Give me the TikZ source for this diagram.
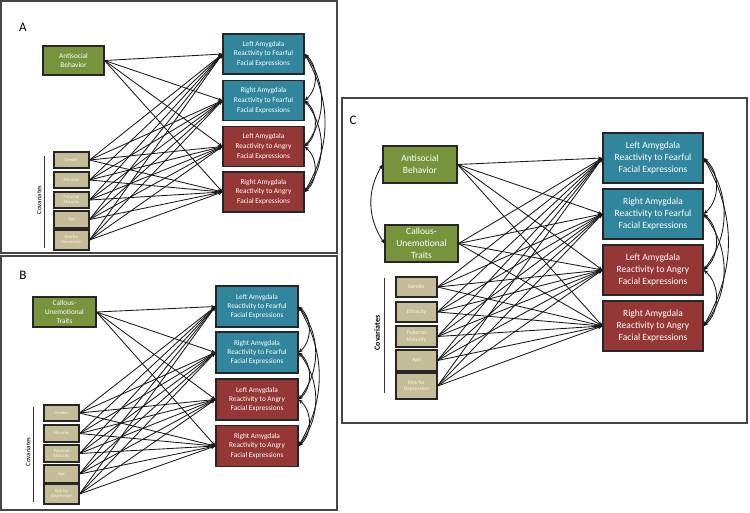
\documentclass[tikz,border=0pt]{standalone}
\usepackage{fontspec}
\setmainfont{Carlito}
\usetikzlibrary{arrows.meta}
\definecolor{grn}{RGB}{119,147,60}
\definecolor{blu}{RGB}{49,133,156}
\definecolor{rd}{RGB}{149,55,53}
\definecolor{covtan}{RGB}{196,189,151}
\definecolor{framegray}{RGB}{70,70,70}
\tikzset{
 box/.style={draw=black!85, line width=1.1pt, text=white, align=center, inner sep=0pt},
 src/.style={box, fill=grn},
 fear/.style={box, fill=blu},
 angr/.style={box, fill=rd},
 cov/.style={box, fill=covtan, text=white!85!covtan},
 arr/.style={-{Stealth[length=4.5pt,width=3.5pt]}, line width=0.85pt, black!90},
 corr/.style={{Stealth[length=4.5pt,width=3.5pt]}-{Stealth[length=4.5pt,width=3.5pt]}, line width=0.85pt, black!90},
 panel/.style={draw=framegray, line width=1.2pt},
 plabel/.style={font=\fontsize{13}{13}\selectfont, text=black},
 covlab/.style={rotate=90, text=black},
 covline/.style={line width=1pt, black!80},
}
\begin{document}
\begin{tikzpicture}[x=1pt,y=-1pt]
\useasboundingbox (0,0) rectangle (750,512);
\fill[white] (0,0) rectangle (750,512);
% ---------------- Panel A ----------------
\draw[panel] (1,1) rectangle (337,253);
\node[plabel] (labA) at (23,27) {A};
\begin{scope}[font=\fontsize{7.3}{9.6}\selectfont]
\node[src, minimum width=61pt, minimum height=29pt] (aS) at (73.5,60.5) {Antisocial\\Behavior};
\node[fear, minimum width=81pt, minimum height=40pt] (aT1) at (263.5,54) {Left Amygdala\\Reactivity to Fearful\\Facial Expressions};
\node[fear, minimum width=81pt, minimum height=40pt] (aT2) at (263.5,100.5) {Right Amygdala\\Reactivity to Fearful\\Facial Expressions};
\node[angr, minimum width=81pt, minimum height=40pt] (aT3) at (263.5,146.5) {Left Amygdala\\Reactivity to Angry\\Facial Expressions};
\node[angr, minimum width=81pt, minimum height=40pt] (aT4) at (263.5,192) {Right Amygdala\\Reactivity to Angry\\Facial Expressions};
\begin{scope}[font=\fontsize{4.5}{5}\selectfont]
\node[cov, minimum width=35pt, minimum height=16pt] (aC1) at (71.5,160) {Gender};
\node[cov, minimum width=35pt, minimum height=16pt] (aC2) at (71.5,180) {Ethnicity};
\node[cov, minimum width=35pt, minimum height=16pt] (aC3) at (71.5,200) {Pubertal\\Maturity};
\node[cov, minimum width=35pt, minimum height=17pt] (aC4) at (71.5,219.5) {Age};
\node[cov, minimum width=35pt, minimum height=20pt] (aC5) at (71.5,240) {Risk for\\Depression};
\end{scope}
\node[covlab, font=\fontsize{6.8}{7}\selectfont] (aCL) at (39,200) {Covariates};
\coordinate (aL1) at (44,156);
\coordinate (aL2) at (44,248);
\draw[covline] (aL1) -- (aL2);
\foreach \s in {aS,aC1,aC2,aC3,aC4,aC5}
  \foreach \t in {aT1,aT2,aT3,aT4}
    \draw[arr] (\s.east) -- (\t.west);
\foreach \i/\j/\b in {1/2/50,2/3/50,3/4/50,1/3/38,2/4/38,1/4/30}
  \draw[corr] (aT\i.east) to[bend left=\b] (aT\j.east);
\end{scope}
% ---------------- Panel B ----------------
\draw[panel] (1,256) rectangle (337,510);
\node[plabel] (labB) at (23,275) {B};
\begin{scope}[font=\fontsize{7.3}{9.4}\selectfont]
\node[src, minimum width=63pt, minimum height=30pt] (bS) at (64.5,312) {Callous-\\Unemotional\\Traits};
\node[fear, minimum width=82pt, minimum height=41pt] (bT1) at (257,306.5) {Left Amygdala\\Reactivity to Fearful\\Facial Expressions};
\node[fear, minimum width=82pt, minimum height=41pt] (bT2) at (257,352.5) {Right Amygdala\\Reactivity to Fearful\\Facial Expressions};
\node[angr, minimum width=82pt, minimum height=41pt] (bT3) at (257,399.5) {Left Amygdala\\Reactivity to Angry\\Facial Expressions};
\node[angr, minimum width=82pt, minimum height=41pt] (bT4) at (257,446) {Right Amygdala\\Reactivity to Angry\\Facial Expressions};
\begin{scope}[font=\fontsize{4.5}{5}\selectfont]
\node[cov, minimum width=35pt, minimum height=16pt] (bC1) at (61.5,413) {Gender};
\node[cov, minimum width=35pt, minimum height=17pt] (bC2) at (61.5,433.5) {Ethnicity};
\node[cov, minimum width=35pt, minimum height=17pt] (bC3) at (61.5,453.5) {Pubertal\\Maturity};
\node[cov, minimum width=35pt, minimum height=18pt] (bC4) at (61.5,474) {Age};
\node[cov, minimum width=35pt, minimum height=20pt] (bC5) at (61.5,494) {Risk for\\Depression};
\end{scope}
\node[covlab, font=\fontsize{6.8}{7}\selectfont] (bCL) at (28,452) {Covariates};
\coordinate (bL1) at (33,407);
\coordinate (bL2) at (33,502);
\draw[covline] (bL1) -- (bL2);
\foreach \s in {bS,bC1,bC2,bC3,bC4,bC5}
  \foreach \t in {bT1,bT2,bT3,bT4}
    \draw[arr] (\s.east) -- (\t.west);
\foreach \i/\j/\b in {1/2/50,2/3/50,3/4/50,1/3/38,2/4/38,1/4/30}
  \draw[corr] (bT\i.east) to[bend left=\b] (bT\j.east);
\end{scope}
% ---------------- Panel C ----------------
\draw[panel] (342,98) rectangle (747,423);
\node[plabel] (labC) at (353,120) {C};
\begin{scope}[font=\fontsize{9.5}{12}\selectfont]
\node[src, minimum width=74pt, minimum height=37pt] (cS1) at (420,164.5) {Antisocial\\Behavior};
\node[src, minimum width=73pt, minimum height=37pt] (cS2) at (421.5,243.5) {Callous-\\Unemotional\\Traits};
\node[fear, minimum width=100pt, minimum height=50pt] (cT1) at (653,158) {Left Amygdala\\Reactivity to Fearful\\Facial Expressions};
\node[fear, minimum width=100pt, minimum height=50pt] (cT2) at (653,214) {Right Amygdala\\Reactivity to Fearful\\Facial Expressions};
\node[angr, minimum width=100pt, minimum height=50pt] (cT3) at (653,270) {Left Amygdala\\Reactivity to Angry\\Facial Expressions};
\node[angr, minimum width=100pt, minimum height=50pt] (cT4) at (653,326) {Right Amygdala\\Reactivity to Angry\\Facial Expressions};
\begin{scope}[font=\fontsize{5.5}{6.5}\selectfont]
\node[cov, minimum width=41pt, minimum height=20pt] (cC1) at (416.5,287) {Gender};
\node[cov, minimum width=41pt, minimum height=20pt] (cC2) at (416.5,312) {Ethnicity};
\node[cov, minimum width=41pt, minimum height=21pt] (cC3) at (416.5,336.5) {Pubertal\\Maturity};
\node[cov, minimum width=41pt, minimum height=21pt] (cC4) at (416.5,360.5) {Age};
\node[cov, minimum width=41pt, minimum height=26pt] (cC5) at (416.5,386) {Risk for\\Depression};
\end{scope}
\node[covlab, font=\fontsize{8}{9}\bfseries\selectfont] (cCL) at (377,333) {Covariates};
\coordinate (cL1) at (384,278);
\coordinate (cL2) at (384,393);
\draw[covline] (cL1) -- (cL2);
\foreach \s in {cS1,cS2,cC1,cC2,cC3,cC4,cC5}
  \foreach \t in {cT1,cT2,cT3,cT4}
    \draw[arr] (\s.east) -- (\t.west);
\foreach \i/\j/\b in {1/2/50,2/3/50,3/4/50,1/3/38,2/4/38,1/4/30}
  \draw[corr] (cT\i.east) to[bend left=\b] (cT\j.east);
\draw[corr] (cS1.west) to[bend right=32] (cS2.west);
\end{scope}
\end{tikzpicture}
\end{document}
